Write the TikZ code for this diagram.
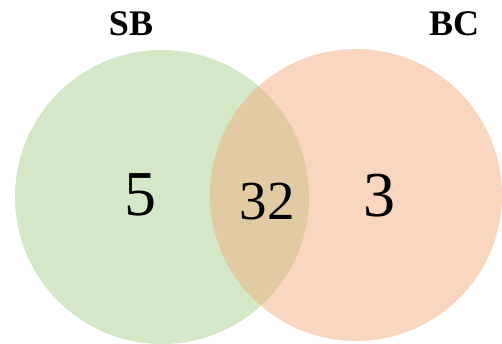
\documentclass[tikz,border=0pt]{standalone}
\usepackage{fontspec}
\setmainfont{Liberation Serif}
\definecolor{sbgreen}{RGB}{212,231,198}
\definecolor{bcorange}{RGB}{248,214,191}
\definecolor{overlap}{RGB}{226,202,163}
\begin{document}
\begin{tikzpicture}[x=1pt,y=1pt,
  setlabel/.style={inner sep=0pt,font=\fontsize{36}{36}\selectfont\bfseries},
  countlabel/.style={inner sep=0pt,font=\fontsize{64}{64}\selectfont},
  midlabel/.style={inner sep=0pt,font=\fontsize{55}{55}\selectfont}]
\useasboundingbox (0,0) rectangle (502,343);
\fill[sbgreen] (162,146) circle (147);
\fill[bcorange] (356,148) circle (146);
\begin{scope}
  \clip (162,146) circle (147);
  \fill[overlap] (356,148) circle (146);
\end{scope}
\node[setlabel] (sb) at (131,319) {SB};
\node[setlabel] (bc) at (454,319.5) {BC};
\node[countlabel] (a) at (140,148) {5};
\node[midlabel] (ab) at (267,141.5) {32};
\node[countlabel] (b) at (379,147.5) {3};
\end{tikzpicture}
\end{document}
